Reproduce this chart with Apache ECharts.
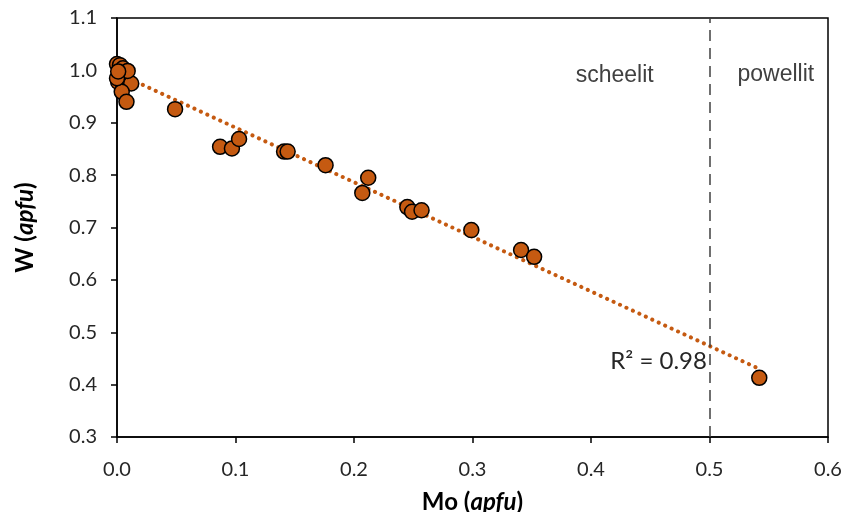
<!DOCTYPE html>
<html><head><meta charset="utf-8">
<script src="https://cdn.jsdelivr.net/npm/echarts@6/dist/echarts.min.js"></script>
<style>html,body{margin:0;padding:0;background:#fff}#c{width:843px;height:512px}</style>
</head><body><div id="c"></div>
<script>
// Data: Mo (apfu) vs W (apfu)
const moValues = [0.000, 0.0025, 0.005, 0.007, 0.0025, 0.001, 0.005, 0.012, 0.004, 0.008, 0.009, 0.000, 0.001,
  0.049, 0.087, 0.097, 0.103, 0.141, 0.144, 0.176, 0.212, 0.207, 0.245, 0.249, 0.257, 0.299, 0.341, 0.352, 0.542];
const wValues = [1.012, 1.010, 1.004, 0.994, 0.994, 0.978, 0.975, 0.975, 0.959, 0.940, 0.999, 0.985, 0.998,
  0.926, 0.854, 0.851, 0.869, 0.845, 0.845, 0.819, 0.795, 0.766, 0.739, 0.730, 0.733, 0.695, 0.657, 0.644, 0.413];
// Linear trend line endpoints (as shown in picture)
const trendX = [0.0, 0.542];
const trendY = [0.995, 0.430];
const xTicks = [0.0, 0.1, 0.2, 0.3, 0.4, 0.5, 0.6];
const yTicks = [0.3, 0.4, 0.5, 0.6, 0.7, 0.8, 0.9, 1.0, 1.1];
const boundaryX = 0.5;
const r2Text = 'R² = 0.98';

const points = moValues.map((x, i) => [x, wValues[i]]);
const trend = trendX.map((x, i) => [x, trendY[i]]);

const chart = echarts.init(document.getElementById('c'), null, {renderer: 'canvas'});
const tickFont = {fontFamily: 'Lato', fontSize: 20, color: '#262626'};
const titleRich = {
  b: {fontFamily: 'Lato', fontWeight: 'bold', fontSize: 24, color: '#000'},
  i: {fontFamily: 'Lato', fontWeight: 'bold', fontStyle: 'italic', fontSize: 24, color: '#000'}
};
chart.setOption({
  animation: false,
  backgroundColor: '#fff',
  grid: {left: 117, right: 15, top: 18, bottom: 75, containLabel: false, outerBoundsMode: 'none',
    show: true, borderColor: '#000', borderWidth: 1.5, backgroundColor: 'transparent'},
  xAxis: {
    type: 'value', min: xTicks[0], max: xTicks[xTicks.length - 1], interval: 0.1,
    axisLine: {show: true, onZero: false, lineStyle: {color: '#000', width: 1.5}},
    axisTick: {show: true, inside: false, length: 6, lineStyle: {color: '#000', width: 1.5}},
    splitLine: {show: false},
    axisLabel: Object.assign({margin: 23, formatter: v => v.toFixed(1)}, tickFont),
    name: '{b|Mo (}{i|apfu}{b|)}', nameLocation: 'middle', nameGap: 53,
    nameTextStyle: {rich: titleRich}
  },
  yAxis: {
    type: 'value', min: yTicks[0], max: yTicks[yTicks.length - 1], interval: 0.1,
    axisLine: {show: true, onZero: false, lineStyle: {color: '#000', width: 1.5}},
    axisTick: {show: true, inside: false, length: 6, lineStyle: {color: '#000', width: 1.5}},
    splitLine: {show: false},
    axisLabel: Object.assign({margin: 20, formatter: v => v.toFixed(1)}, tickFont),
    name: '{b|W (}{i|apfu}{b|)}', nameLocation: 'middle', nameGap: 80, nameRotate: 90,
    nameTextStyle: {rich: titleRich}
  },
  series: [
    {
      type: 'line', data: trend, symbol: 'none', z: 2, silent: true,
      lineStyle: {color: '#C55A11', width: 4, type: [0.1, 7], cap: 'round'},
      markLine: {
        symbol: 'none', silent: true, label: {show: false},
        lineStyle: {color: '#404040', width: 1.5, type: [11, 7]},
        data: [{xAxis: boundaryX}]
      }
    },
    {
      type: 'scatter', data: points, symbol: 'circle', symbolSize: 15, z: 3,
      itemStyle: {color: '#C55A11', borderColor: '#000', borderWidth: 1.5, opacity: 1}
    }
  ]
});

function px(x, y) { return chart.convertToPixel({gridIndex: 0}, [x, y]); }
const pS = px(0.42, 0.99), pP = px(0.556, 0.992), pR = px(0.457, 0.445);
chart.setOption({
  graphic: [
    {type: 'text', x: pS[0], y: pS[1], style: {text: 'scheelit', font: '23px "Liberation Sans"', fill: '#404040', textAlign: 'center', textVerticalAlign: 'middle'}},
    {type: 'text', x: pP[0], y: pP[1], style: {text: 'powellit', font: '23px "Liberation Sans"', fill: '#404040', textAlign: 'center', textVerticalAlign: 'middle'}},
    {type: 'text', x: pR[0], y: pR[1], style: {text: r2Text, font: '24px Lato', fill: '#262626', textAlign: 'center', textVerticalAlign: 'middle'}}
  ]
});
</script>
</body></html>
